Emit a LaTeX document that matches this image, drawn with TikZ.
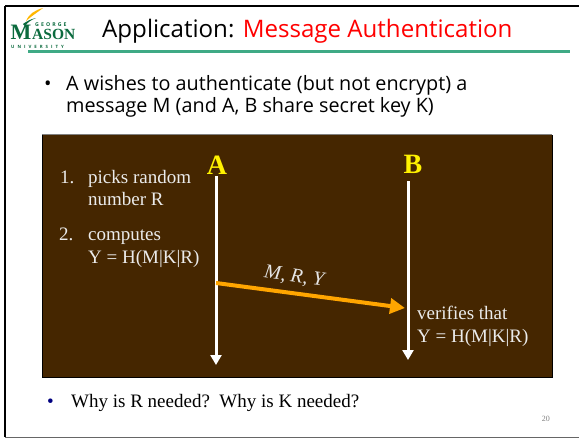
\documentclass[tikz,border=0pt]{standalone}
\usepackage{fontspec}
\setmainfont{Liberation Serif}
\newfontfamily\sans{Open Sans}
\usetikzlibrary{arrows.meta}
\definecolor{brownbg}{HTML}{452600}
\definecolor{gmgreen}{HTML}{0B6B3E}
\definecolor{rulegreen}{HTML}{3FAA85}
\definecolor{gold}{HTML}{FFA500}
\tikzset{
  px/.style={x=1pt,y=-1pt},
  lbl/.style={inner sep=0pt,anchor=base west,text=white!92!black,font=\fontsize{19}{22}\selectfont},
  life/.style={draw=white,line width=3pt,-{Triangle[length=10pt,width=11pt]}},
  who/.style={inner sep=0pt,anchor=base,text=yellow,font=\fontsize{28}{30}\selectfont\bfseries},
  body/.style={inner sep=0pt,anchor=base west,text=black,font=\sans\fontsize{19.8}{24}\selectfont}
}
\begin{document}
\begin{tikzpicture}[px]
\useasboundingbox (0,0) rectangle (579,439);
\fill[white] (0,0) rectangle (579,439);
\draw[black,line width=2pt] (5,6) -- (579,6);
\draw[black,line width=2pt] (5,6) -- (5,437);
\draw[black!60,line width=1.4pt] (5,437.5) -- (579,437.5);
\fill[rulegreen] (28,50) rectangle (570,53);
% logo
\node[inner sep=0pt,anchor=base west,text=gmgreen,font=\bfseries\fontsize{22}{22}\selectfont] (logoM) at (10.5,39.5) {M};
\node[inner sep=0pt,anchor=base west,text=gmgreen,font=\bfseries\fontsize{15.5}{16}\selectfont] (logoA) at (32,39.5) {ASON};
\node[inner sep=0pt,anchor=base west,text=gmgreen,font=\sans\bfseries\fontsize{5.2}{5.4}\selectfont] (logoG) at (35,27) {\addfontfeature{LetterSpace=40}GEORGE};
\node[inner sep=0pt,anchor=base west,text=gmgreen,font=\sans\bfseries\fontsize{4.4}{5}\selectfont] (logoU) at (11,48) {\addfontfeature{LetterSpace=68}UNIVERSITY};
\fill[gold!80!yellow] (26,21) .. controls (29,14) and (35,10) .. (43,8) .. controls (38,12) and (33,15) .. (26,21);
\fill[gmgreen] (23,24) .. controls (27,21) and (31,19) .. (36,18) .. controls (31,20) and (28,22) .. (25,26) -- cycle;
% title
\node[inner sep=0pt,anchor=base west,font=\sans\fontsize{24.1}{28}\selectfont] (title) at (102,37.5) {Application: \textcolor{red}{Message Authentication}};
% bullet
\node[body] (b1) at (44,90) {•};
\node[body] (t1) at (66,90) {A wishes to authenticate (but not encrypt) a};
\node[body] (t2) at (66,112) {message M (and A, B share secret key K)};
% panel
\fill[brownbg] (42.5,134.5) rectangle (552,377);
\draw[black!50,line width=1pt] (42,134.5) -- (552,134.5);
\draw[black,line width=1pt] (42.5,134.5) -- (42.5,377) -- (552,377) -- (552,134.5);
\node[who] (A) at (217,174) {A};
\node[who] (B) at (413,173) {B};
\coordinate (Atop) at (216,176);
\coordinate (Aend) at (216,365);
\coordinate (Btop) at (408,181);
\coordinate (Bend) at (408,360);
\coordinate (Mstart) at (216,283);
\coordinate (Mend) at (405,308);
\draw[life] (Atop) -- (Aend);
\draw[life] (Btop) -- (Bend);
\draw[draw=gold,line width=4pt,-{Triangle[length=15pt,width=15pt]}] (Mstart) -- (Mend);
\node[inner sep=0pt,text=white!90!black,rotate=-8,font=\itshape\fontsize{20}{22}\selectfont] (msg) at (294,277) {M, R, Y};
\node[lbl] (n1) at (60,183) {1.};
\node[lbl] (l1) at (88,183) {picks random};
\node[lbl] (l2) at (88,205) {number R};
\node[lbl] (n2) at (59,240) {2.};
\node[lbl] (l3) at (88,240) {computes};
\node[lbl] (l4) at (88,263) {Y = H(M|K|R)};
\node[lbl] (l5) at (417,319) {verifies that};
\node[lbl] (l6) at (417,342) {Y = H(M|K|R)};
% footer
\node[inner sep=0pt,anchor=base west,text=blue!50!black,font=\fontsize{19}{22}\selectfont] (b2) at (47,407) {•};
\node[inner sep=0pt,anchor=base west,font=\fontsize{19}{22}\selectfont] (t3) at (71,407) {Why is R needed?\ \ Why is K needed?};
\node[inner sep=0pt,anchor=base east,text=black!50,font=\fontsize{8}{9}\selectfont] (pg) at (550,421) {20};
\end{tikzpicture}
\end{document}
